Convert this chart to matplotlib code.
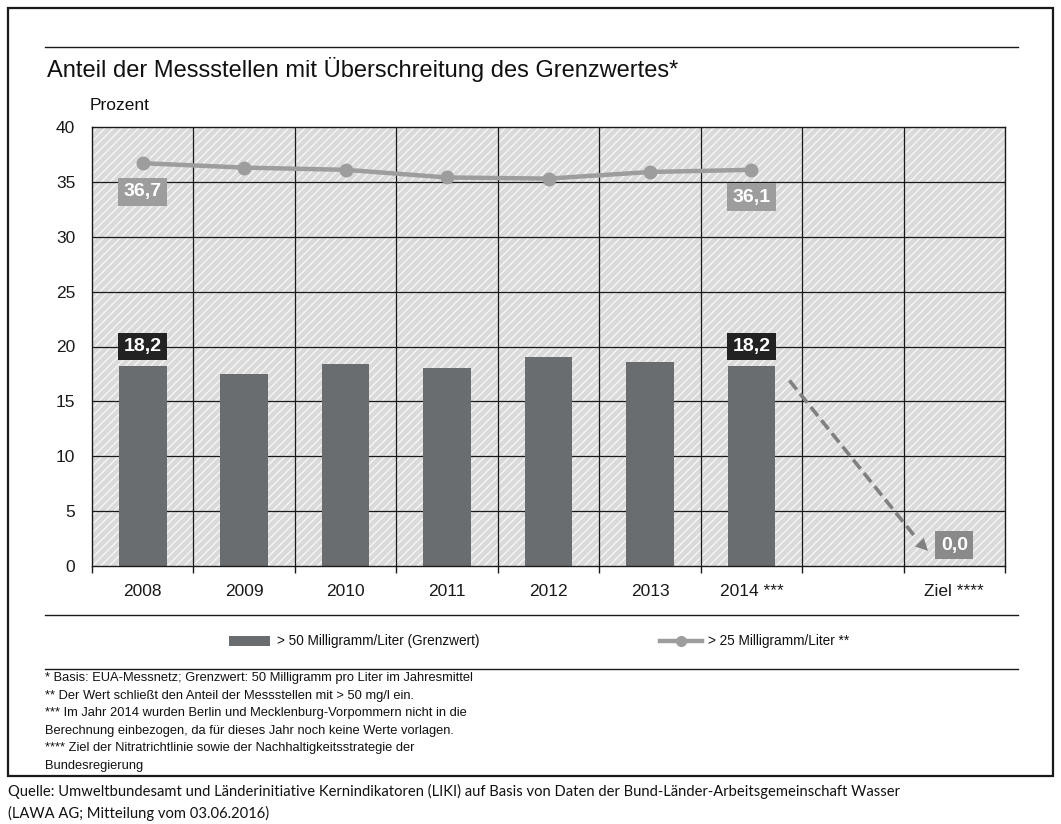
import matplotlib.pyplot as plt
from matplotlib.patches import Rectangle
from matplotlib.lines import Line2D

plt.rcParams['font.family'] = ['Liberation Sans', 'DejaVu Sans']
plt.rcParams['hatch.linewidth'] = 1.0

# data
categories = ["2008", "2009", "2010", "2011", "2012", "2013", "2014 ***", "", "Ziel ****"]
bar_years = ["2008", "2009", "2010", "2011", "2012", "2013", "2014 ***"]
over50 = [18.2, 17.5, 18.4, 18.0, 19.0, 18.6, 18.2]
over25 = [36.7, 36.3, 36.1, 35.4, 35.3, 35.9, 36.1]
ziel_value = 0.0
trend_start = 16.9
trend_end = 1.2

title = "Anteil der Messstellen mit Überschreitung des Grenzwertes*"
footnotes = [
    "* Basis: EUA-Messnetz; Grenzwert: 50 Milligramm pro Liter im Jahresmittel",
    "** Der Wert schließt den Anteil der Messstellen mit > 50 mg/l ein.",
    "*** Im Jahr 2014 wurden Berlin und Mecklenburg-Vorpommern nicht in die",
    "Berechnung einbezogen, da für dieses Jahr noch keine Werte vorlagen.",
    "**** Ziel der Nitratrichtlinie sowie der Nachhaltigkeitsstrategie der",
    "Bundesregierung",
]
source = ["Quelle: Umweltbundesamt und Länderinitiative Kernindikatoren (LIKI) auf Basis von Daten der Bund-Länder-Arbeitsgemeinschaft Wasser",
          "(LAWA AG; Mitteilung vom 03.06.2016)"]

bar_col = '#6a6d70'
line_col = '#9d9d9d'

W, H = 1061, 824
fig = plt.figure(figsize=(W / 100, H / 100), dpi=100)

ax = fig.add_axes([92 / W, 1 - 566 / H, (1005 - 92) / W, (566 - 127) / H])
ax.set_xlim(-0.5, len(categories) - 0.5)
ax.set_ylim(0, 40)

# hatched background
bg = Rectangle((-0.5, 0), len(categories), 40, facecolor='#dadada', edgecolor='#f6f6f6',
               hatch='////', linewidth=0, zorder=0)
ax.add_patch(bg)

# grid
for y in range(5, 40, 5):
    ax.axhline(y, color='#1a1a1a', lw=0.9, zorder=1)
for i in range(1, len(categories)):
    ax.axvline(i - 0.5, color='#1a1a1a', lw=0.9, zorder=1)
for s in ax.spines.values():
    s.set_color('#1a1a1a')
    s.set_linewidth(1.0)

xs = list(range(len(bar_years)))
ax.bar(xs, over50, width=0.47, color=bar_col, zorder=2)
ax.plot(xs, over25, color=line_col, lw=3.2, marker='o', markersize=9, zorder=3)

# value labels
def box(x, y, txt, fc):
    ax.text(x, y, txt, ha='center', va='center', color='white', fontsize=14, fontweight='bold',
            zorder=5, bbox=dict(boxstyle='square,pad=0.28', fc=fc, ec='none'))

box(0, 34.1, "36,7", line_col)
box(6, 33.6, "36,1", line_col)
box(0, 20.0, "18,2", '#222222')
box(6, 20.0, "18,2", '#222222')
box(8, 1.9, "0,0", '#8a8a8a')

# trend arrow
ax.plot([6.375, 7.62], [trend_start, 2.6], color='#808080', lw=2.6, ls=(0, (3.2, 1.5)), zorder=4)
ax.annotate('', xy=(7.76, trend_end), xytext=(7.6, 2.7),
            arrowprops=dict(arrowstyle='-|>', color='#808080', mutation_scale=22, lw=0), zorder=4)

ax.set_yticks(range(0, 41, 5))
ax.set_xticks(range(len(categories)))
ax.set_xticklabels(categories)
ax.set_xticks([i + 0.5 for i in range(-1, len(categories))], minor=True)
ax.tick_params(axis='y', length=0, pad=12, labelsize=12.5, labelcolor='#1a1a1a')
ax.tick_params(axis='x', which='major', length=0, pad=13, labelsize=12.5, labelcolor='#1a1a1a')
ax.tick_params(axis='x', which='minor', length=5, width=1.0, color='#1a1a1a')

# page decorations in pixel coordinates
lay = fig.add_axes([0, 0, 1, 1], zorder=-1)
lay.set_xlim(0, W)
lay.set_ylim(H, 0)
lay.axis('off')

lay.add_patch(Rectangle((8, 8), 1045, 768, fill=False, ec='#1a1a1a', lw=1.6))
for yy in (47, 615, 669):
    lay.add_line(Line2D([45, 1018], [yy, yy], color='#1a1a1a', lw=1.0))

lay.text(47, 69, title, fontsize=17, va='center', ha='left', color='#111111')
lay.text(90, 105, "Prozent", fontsize=12.5, va='center', ha='left', color='#111111')

# legend
lay.add_patch(Rectangle((229, 636), 41, 10, fc=bar_col, ec='none'))
lay.text(277, 641, "> 50 Milligramm/Liter (Grenzwert)", fontsize=9.8, va='center', color='#111111')
lay.add_line(Line2D([660, 702], [641, 641], color=line_col, lw=3.2))
lay.add_line(Line2D([681], [641], color=line_col, marker='o', markersize=7))
lay.text(708, 641, "> 25 Milligramm/Liter **", fontsize=9.8, va='center', color='#111111')

for k, t in enumerate(footnotes):
    lay.text(45, 678 + k * 17.6, t, fontsize=9.3, va='center', color='#111111')

for k, t in enumerate(source):
    lay.text(8, 791 + k * 22, t, fontsize=10.65, va='center', color='#111111', family='Lato')

fig.savefig('out.png', dpi=100)
